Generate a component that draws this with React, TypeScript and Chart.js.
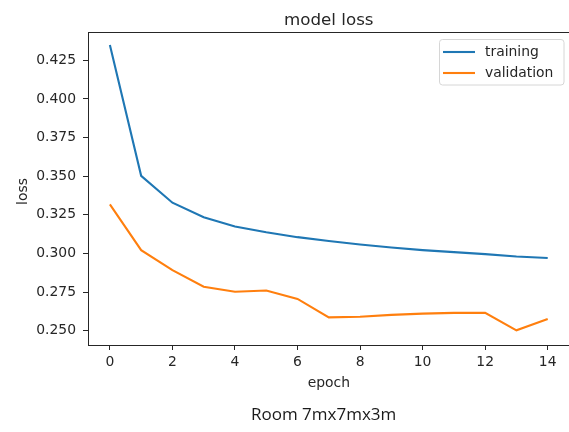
import { useEffect, useRef } from "react";
import { Chart, registerables } from "chart.js";

Chart.register(...registerables);

const epochs = [0, 1, 2, 3, 4, 5, 6, 7, 8, 9, 10, 11, 12, 13, 14];
const trainingLoss = [0.4349, 0.3502, 0.3328, 0.3234, 0.3174, 0.3137, 0.3105, 0.308, 0.3058, 0.3038, 0.3021, 0.3008, 0.2995, 0.298, 0.297];
const validationLoss = [0.3317, 0.3021, 0.2892, 0.2784, 0.2752, 0.276, 0.2705, 0.2586, 0.259, 0.2602, 0.261, 0.2615, 0.2615, 0.2502, 0.2575];
const seriesLabels = ["training", "validation"];
const xTicks = [0, 2, 4, 6, 8, 10, 12, 14];
const yTicks = [0.25, 0.275, 0.3, 0.325, 0.35, 0.375, 0.4, 0.425];
const chartTitle = "model loss";
const xTitle = "epoch";
const yTitle = "loss";
const caption = "Room 7mx7mx3m";

const W = 590;
const H = 432;
const FONT = "DejaVu Sans";
const TEXT = "#262626";
const COLORS = ["#1f77b4", "#ff7f0e"];

export default function App() {
  const ref = useRef<HTMLCanvasElement | null>(null);

  useEffect(() => {
    if (!ref.current) return;

    const decor = {
      id: "decor",
      afterDraw(chart: any) {
        const ctx = chart.ctx as CanvasRenderingContext2D;
        const a = chart.chartArea;
        const L = Math.round(a.left) + 0.5;
        const T = Math.round(a.top) + 0.5;
        const B = Math.round(a.bottom) + 0.5;
        ctx.save();
        // spines: left, bottom, top (right spine falls outside the picture)
        ctx.strokeStyle = TEXT;
        ctx.lineWidth = 1;
        ctx.beginPath();
        ctx.moveTo(L, T - 0.5);
        ctx.lineTo(L, B + 0.5);
        ctx.moveTo(L - 0.5, B);
        ctx.lineTo(a.right, B);
        ctx.moveTo(L - 0.5, T);
        ctx.lineTo(a.right, T);
        ctx.stroke();
        // title
        ctx.fillStyle = TEXT;
        ctx.textAlign = "center";
        ctx.textBaseline = "alphabetic";
        ctx.font = `16.7px "${FONT}"`;
        ctx.fillText(chartTitle, (a.left + a.right) / 2, 25);
        // x title
        ctx.font = `13.9px "${FONT}"`;
        ctx.fillText(xTitle, (a.left + a.right) / 2, 387);
        // y title
        ctx.save();
        ctx.translate(26.5, (a.top + a.bottom) / 2 + 3);
        ctx.rotate(-Math.PI / 2);
        ctx.fillText(yTitle, 0, 0);
        ctx.restore();
        // legend
        const lx = 439.5, ly = 39.5, lw = 124.5, lh = 45.5, r = 3;
        ctx.beginPath();
        ctx.moveTo(lx + r, ly);
        ctx.lineTo(lx + lw - r, ly);
        ctx.arcTo(lx + lw, ly, lx + lw, ly + r, r);
        ctx.lineTo(lx + lw, ly + lh - r);
        ctx.arcTo(lx + lw, ly + lh, lx + lw - r, ly + lh, r);
        ctx.lineTo(lx + r, ly + lh);
        ctx.arcTo(lx, ly + lh, lx, ly + lh - r, r);
        ctx.lineTo(lx, ly + r);
        ctx.arcTo(lx, ly, lx + r, ly, r);
        ctx.closePath();
        ctx.fillStyle = "rgba(255,255,255,0.8)";
        ctx.fill();
        ctx.strokeStyle = "#d6d6d6";
        ctx.stroke();
        chart.data.datasets.forEach((ds: any, i: number) => {
          const y = 52 + i * 21;
          ctx.strokeStyle = ds.borderColor;
          ctx.lineWidth = 2.1;
          ctx.beginPath();
          ctx.moveTo(443, y);
          ctx.lineTo(475, y);
          ctx.stroke();
          ctx.fillStyle = TEXT;
          ctx.textAlign = "left";
          ctx.textBaseline = "middle";
          ctx.font = `13.9px "${FONT}"`;
          ctx.fillText(ds.label, 485, y);
        });
        ctx.restore();
      },
    };

    const tickFont = { family: FONT, size: 13.9 };
    const chart = new Chart(ref.current, {
      type: "line",
      data: {
        datasets: [trainingLoss, validationLoss].map((vals, i) => ({
          label: seriesLabels[i],
          data: epochs.map((e, j) => ({ x: e, y: vals[j] })),
          borderColor: COLORS[i],
          backgroundColor: COLORS[i],
          borderWidth: 2.1,
          pointRadius: 0,
          tension: 0,
          fill: false,
        })),
      },
      options: {
        animation: false,
        responsive: false,
        devicePixelRatio: 1,
        layout: { padding: { left: 0, top: 32, right: W - 569.6, bottom: 0 } },
        plugins: { legend: { display: false }, title: { display: false }, tooltip: { enabled: false } },
        scales: {
          x: {
            type: "linear",
            min: -0.7,
            max: 14.7,
            afterBuildTicks: (s: any) => {
              s.ticks = xTicks.map((v) => ({ value: v }));
            },
            afterFit: (s: any) => {
              s.height = H - 345;
            },
            grid: { drawOnChartArea: false, drawTicks: true, tickLength: 5, color: TEXT },
            border: { display: false },
            ticks: { font: tickFont, color: TEXT, padding: 4, maxRotation: 0, autoSkip: false },
          },
          y: {
            type: "linear",
            min: 0.2407,
            max: 0.4433,
            afterBuildTicks: (s: any) => {
              s.ticks = yTicks.map((v) => ({ value: v }));
            },
            afterFit: (s: any) => {
              s.width = 88;
            },
            grid: { drawOnChartArea: false, drawTicks: true, tickLength: 5, color: TEXT },
            border: { display: false },
            ticks: {
              font: tickFont,
              color: TEXT,
              padding: 7,
              autoSkip: false,
              callback: (v: any) => Number(v).toFixed(3),
            },
          },
        },
      },
      plugins: [decor],
    } as any);
    return () => chart.destroy();
  }, []);

  return (
    <div style={{ position: "absolute", left: 0, top: 0, width: 569, height: H, overflow: "hidden", background: "#fff" }}>
      <canvas ref={ref} width={W} height={H} style={{ display: "block", width: W, height: H }} />
      <div
        style={{
          position: "absolute",
          left: 251,
          top: 402,
          fontFamily: '"Open Sans", sans-serif',
          fontSize: 17,
          lineHeight: "24px",
          color: "#1a1a1a",
          whiteSpace: "nowrap",
        }}
      >
        {caption}
      </div>
    </div>
  );
}
